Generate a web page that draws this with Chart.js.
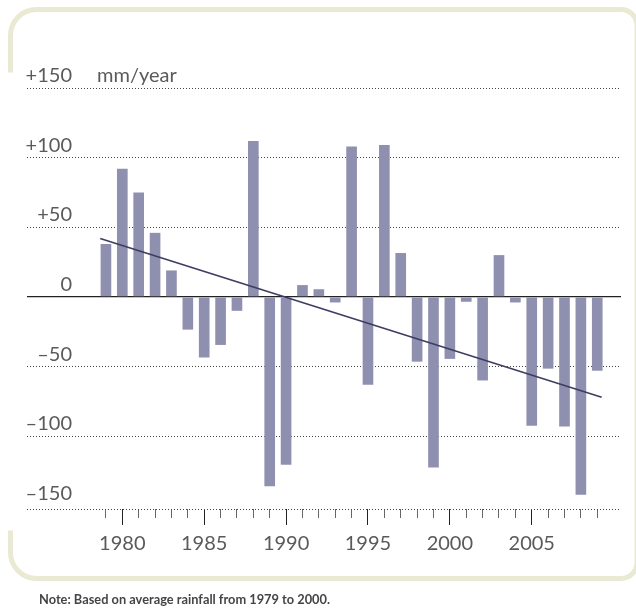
<!DOCTYPE html>
<html>
<head>
<meta charset="utf-8">
<script src="https://cdn.jsdelivr.net/npm/chart.js@4.4.1/dist/chart.umd.min.js"></script>
<style>
  html, body { margin: 0; padding: 0; background: #ffffff; }
  canvas { display: block; }
</style>
</head>
<body>
<canvas id="chart" width="636" height="609"></canvas>
<script>
// ---- data ----
const years = [1979,1980,1981,1982,1983,1984,1985,1986,1987,1988,1989,1990,1991,1992,1993,1994,1995,1996,1997,1998,1999,2000,2001,2002,2003,2004,2005,2006,2007,2008,2009];
const anomalies = [38,92,75,46,19,-23.5,-43.5,-34.5,-10,112,-136,-120.5,8.5,5.5,-4,108,-63,109,31.5,-46.5,-122.5,-44.5,-3.5,-60,30,-4,-92.5,-51.5,-93,-142,-53];
const trendYears = [1978.65, 2009.27];
const trendValues = [42, -72];
const yTickValues = [150, 100, 50, 0, -50, -100, -150];
const yTickLabels = ['+150', '+100', '+50', '0', '\u201350', '\u2013100', '\u2013150'];
const xLabelYears = [1980, 1985, 1990, 1995, 2000, 2005];
const unitLabel = 'mm/year';
const noteText = 'Note: Based on average rainfall from 1979 to 2000.';

// ---- styling / layout ----
const Y_MIN = -152.3, Y_MAX = 150;
const X_MIN = 1974.18, X_MAX = 2010.45;
const LABEL_FONT = '20px Lato, "Open Sans", sans-serif';
const LABEL_COLOR = '#5a5a5a';
const BAR_COLOR = '#8f8fb0';
const TREND_COLOR = '#3d3d62';
const FRAME_COLOR = '#eae9d3';

const framePlugin = {
  id: 'frame',
  beforeDraw(chart) {
    const ctx = chart.ctx;
    const L = 10.5, T = 9.5, R = 637, B = 578.5, r1 = 26, r2 = 16;
    ctx.save();
    ctx.strokeStyle = FRAME_COLOR;
    ctx.lineWidth = 5;
    ctx.lineCap = 'butt';
    ctx.beginPath();
    ctx.moveTo(L, 72.5);
    ctx.lineTo(L, T + r1);
    ctx.arcTo(L, T, L + r1, T, r1);
    ctx.lineTo(R - r2, T);
    ctx.arcTo(R, T, R, T + r2, r2);
    ctx.lineTo(R, B - r2);
    ctx.arcTo(R, B, R - r2, B, r2);
    ctx.lineTo(L + r1, B);
    ctx.arcTo(L, B, L, B - r1, r1);
    ctx.lineTo(L, 530.5);
    ctx.stroke();
    ctx.restore();
  }
};

const textPlugin = {
  id: 'texts',
  afterDraw(chart) {
    const ctx = chart.ctx;
    const ys = chart.scales.y;
    ctx.save();
    ctx.font = LABEL_FONT;
    ctx.fillStyle = LABEL_COLOR;
    ctx.textBaseline = 'alphabetic';
    ctx.textAlign = 'right';
    yTickValues.forEach((v, i) => {
      ctx.fillText(yTickLabels[i], 72, ys.getPixelForValue(v) - 6);
    });
    ctx.textAlign = 'left';
    ctx.fillText(unitLabel, 97, ys.getPixelForValue(yTickValues[0]) - 6);
    ctx.restore();

    // note line, fitted to the reference width
    ctx.save();
    ctx.font = 'bold 13.5px Lato, "Open Sans", sans-serif';
    ctx.fillStyle = '#454545';
    ctx.textAlign = 'left';
    ctx.textBaseline = 'alphabetic';
    const w = ctx.measureText(noteText).width;
    const target = 291;
    const sx = w > target ? target / w : 1;
    ctx.translate(39, 604);
    ctx.scale(sx, 1);
    ctx.fillText(noteText, 0, 0);
    ctx.restore();
  }
};

const isMajor = v => xLabelYears.includes(v);

new Chart(document.getElementById('chart'), {
  type: 'bar',
  data: {
    datasets: [
      {
        type: 'line',
        data: trendYears.map((x, i) => ({ x: x, y: trendValues[i] })),
        borderColor: TREND_COLOR,
        borderWidth: 1.6,
        pointRadius: 0,
        fill: false,
        order: 0
      },
      {
        type: 'bar',
        data: years.map((x, i) => ({ x: x, y: anomalies[i] })),
        backgroundColor: BAR_COLOR,
        borderWidth: 0,
        barPercentage: 0.65,
        categoryPercentage: 1,
        order: 1
      }
    ]
  },
  options: {
    responsive: false,
    animation: false,
    devicePixelRatio: 1,
    layout: { padding: { left: 27, right: 15, top: 88, bottom: 50 } },
    plugins: { legend: { display: false }, tooltip: { enabled: false } },
    scales: {
      x: {
        type: 'linear',
        min: X_MIN,
        max: X_MAX,
        offset: false,
        afterBuildTicks: s => { s.ticks = years.map(v => ({ value: v })); },
        afterFit: s => { s.height = 50; },
        border: { display: false },
        grid: {
          offset: false,
          drawOnChartArea: false,
          drawTicks: true,
          tickLength: 16,
          tickWidth: 1,
          tickColor: ctx => isMajor(ctx.tick.value) ? '#222222' : '#666666',
          tickBorderDash: ctx => isMajor(ctx.tick.value) ? [] : [9, 40]
        },
        ticks: {
          autoSkip: false,
          maxRotation: 0,
          padding: 7,
          color: LABEL_COLOR,
          font: { family: 'Lato, "Open Sans", sans-serif', size: 20 },
          callback: v => isMajor(v) ? String(v) : ''
        }
      },
      y: {
        min: Y_MIN,
        max: Y_MAX,
        afterBuildTicks: s => { s.ticks = [Y_MAX, 100, 50, 0, -50, -100, Y_MIN].map(v => ({ value: v })); },
        afterFit: s => { s.width = 0; },
        ticks: { display: false },
        border: { display: false, dash: ctx => (ctx.tick && ctx.tick.value === 0) ? [] : [1, 2] },
        grid: {
          drawTicks: false,
          color: ctx => ctx.tick.value === 0 ? '#222222' : '#444444',
          lineWidth: ctx => ctx.tick.value === 0 ? 1.3 : 1
        }
      }
    }
  },
  plugins: [framePlugin, textPlugin]
});
</script>
</body>
</html>
